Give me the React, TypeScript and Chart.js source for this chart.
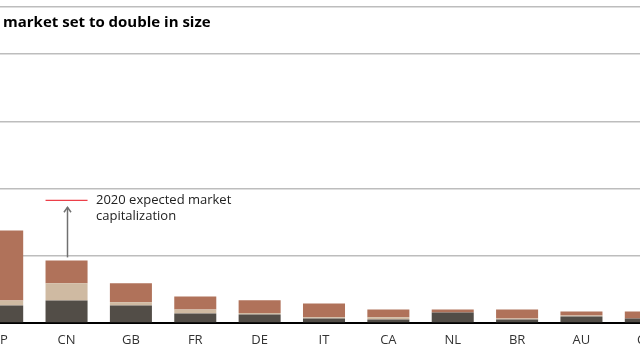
import React, { useEffect, useRef } from "react";
import { Chart, registerables } from "chart.js";

Chart.register(...registerables);

const categories = ["JP", "CN", "GB", "FR", "DE", "IT", "CA", "NL", "BR", "AU", "CH"];
const seriesDark = [0.26, 0.335, 0.26, 0.14, 0.127, 0.067, 0.052, 0.156, 0.052, 0.097, 0.067];
const seriesBeige = [0.075, 0.258, 0.05, 0.06, 0.02, 0.02, 0.034, 0, 0.015, 0.015, 0];
const seriesTerra = [1.04, 0.338, 0.28, 0.195, 0.19, 0.204, 0.115, 0.045, 0.134, 0.06, 0.104];
const expected2020: (number | null)[] = [null, 1.825, null, null, null, null, null, null, null, null, null];
const yMax = 4.7;
const titleText = "market set to double in size";
const noteLines = ["2020 expected market", "capitalization"];

const FONT = '"Open Sans", "Noto Sans", sans-serif';

const overlayPlugin = {
  id: "overlay",
  afterDatasetsDraw(chart: any) {
    const ctx = chart.ctx;
    const xs = chart.scales.x;
    const ys = chart.scales.y;
    ctx.save();
    ctx.fillStyle = "#000";
    ctx.font = `bold 15px ${FONT}`;
    ctx.textBaseline = "alphabetic";
    ctx.textAlign = "left";
    ctx.fillText(titleText, 33, 27);
    expected2020.forEach((ev, i) => {
      if (ev == null) return;
      const total = seriesDark[i] + seriesBeige[i] + seriesTerra[i];
      const x = Math.round(xs.getPixelForValue(i)) + 0.5;
      const y0 = ys.getPixelForValue(total) - 3;
      const yE = ys.getPixelForValue(ev);
      const y1 = yE + 7;
      ctx.strokeStyle = "#707070";
      ctx.lineWidth = 1.5;
      ctx.beginPath();
      ctx.moveTo(x, y0);
      ctx.lineTo(x, y1);
      ctx.stroke();
      ctx.beginPath();
      ctx.moveTo(x - 3.5, y1 + 5);
      ctx.lineTo(x, y1);
      ctx.lineTo(x + 3.5, y1 + 5);
      ctx.stroke();
      ctx.fillStyle = "#222";
      ctx.font = `13px ${FONT}`;
      ctx.textBaseline = "middle";
      noteLines.forEach((t, k) => ctx.fillText(t, x + 28.5, yE + k * 16));
    });
    ctx.restore();
  },
};

export default function App() {
  const ref = useRef<HTMLCanvasElement | null>(null);
  useEffect(() => {
    document.body.style.margin = "0";
    const canvas = ref.current!;
    const chart = new Chart(canvas, {
      type: "bar",
      data: {
        labels: categories,
        datasets: [
          {
            type: "line",
            label: "2020 expected market capitalization",
            data: expected2020 as any,
            showLine: false,
            pointStyle: "line",
            pointRadius: 21,
            pointHoverRadius: 21,
            borderColor: "#e8101c",
            backgroundColor: "#e8101c",
            borderWidth: 1,
            stack: "exp",
            order: 0,
          } as any,
          { label: "dark", data: seriesDark, backgroundColor: "#524d47", stack: "a", order: 1 },
          { label: "beige", data: seriesBeige, backgroundColor: "#cfbaa2", stack: "a", order: 1 },
          { label: "terra", data: seriesTerra, backgroundColor: "#b0725a", stack: "a", order: 1 },
        ],
      },
      options: {
        animation: false,
        responsive: false,
        layout: { autoPadding: false, padding: { top: 7, left: 0, right: 0, bottom: 0 } },
        datasets: { bar: { barPercentage: 1, categoryPercentage: 0.653 } },
        plugins: { legend: { display: false }, tooltip: { enabled: false }, title: { display: false } },
        scales: {
          x: {
            stacked: true,
            grid: { display: false, drawTicks: false },
            border: { display: true, color: "#000", width: 2 },
            ticks: { color: "#333", font: { family: FONT, size: 13 }, padding: 9, maxRotation: 0 },
            afterFit: (s: any) => {
              s.height = 28;
              s.paddingLeft = 0;
              s.paddingRight = 0;
              s.paddingTop = 0;
              s.paddingBottom = 0;
            },
          },
          y: {
            stacked: true,
            min: 0,
            max: yMax,
            grid: { color: "#bdbdbd", lineWidth: 1.5, drawTicks: false },
            border: { display: false },
            ticks: { display: false, stepSize: 1 },
            afterFit: (s: any) => {
              s.width = 0;
              s.paddingLeft = 0;
              s.paddingRight = 0;
              s.paddingTop = 0;
              s.paddingBottom = 0;
            },
          },
        },
      },
      plugins: [overlayPlugin],
    });
    return () => chart.destroy();
  }, []);
  return (
    <div style={{ position: "fixed", left: 0, top: 0, width: 640, height: 351, overflow: "hidden", background: "#fff" }}>
      <canvas ref={ref} width={708} height={351} style={{ position: "absolute", left: -30, top: 0, width: 708, height: 351 }} />
    </div>
  );
}
